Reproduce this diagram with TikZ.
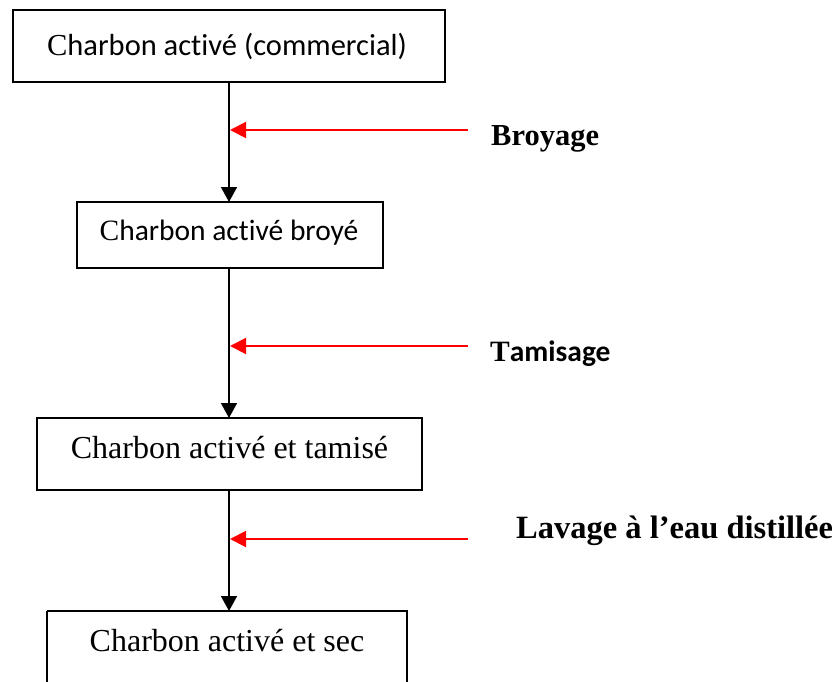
\documentclass[tikz,border=0pt]{standalone}
\usepackage{fontspec}
\setmainfont{Liberation Serif}
\newfontfamily\calib[Ligatures=NoCommon]{Carlito}
\usetikzlibrary{arrows.meta}
\begin{document}
\begin{tikzpicture}[x=1pt,y=-1pt,
  boxst/.style={draw=black,line width=1.6pt},
  txt/.style={inner sep=0pt,anchor=center},
  flow/.style={draw=black,line width=1.6pt,-{Triangle[length=15pt,width=16pt]}},
  feed/.style={draw=red,line width=2pt,-{Triangle[length=16pt,width=16pt]}},
  lbl/.style={inner sep=0pt,anchor=west,font=\bfseries}]
\useasboundingbox (0,0) rectangle (832,682);
% boxes
\draw[boxst] (13,10) rectangle (445,82);
\draw[boxst] (77,202) rectangle (383,268);
\draw[boxst] (37,418) rectangle (422,490);
\draw[boxst] (47,611) -- (47,690) (47,611) -- (407,611) -- (407,690);
% box texts
\node[txt,font=\fontsize{30.5}{32}\selectfont] (t1) at (227,46) {C{\calib harbon activé (commercial)}};
\node[txt,font=\fontsize{29.5}{32}\selectfont] (t2) at (229,233) {C{\calib harbon activé broyé}};
\node[txt,font=\fontsize{32}{34}\selectfont] (t3) at (229.5,448) {Charbon activé et tamisé};
\node[txt,font=\fontsize{32}{34}\selectfont] (t4) at (227,641) {Charbon activé et sec};
% anchor coordinates
\coordinate (b1) at (229,82);
\coordinate (b2t) at (229,202);
\coordinate (b2b) at (229,268);
\coordinate (b3t) at (229,418);
\coordinate (b3b) at (229,490);
\coordinate (b4t) at (229,611);
\draw[flow] (b1) -- (b2t);
\draw[flow] (b2b) -- (b3t);
\draw[flow] (b3b) -- (b4t);
% red side inputs
\coordinate (r1s) at (468,130); \coordinate (r1e) at (230,130);
\coordinate (r2s) at (468,346); \coordinate (r2e) at (230,346);
\coordinate (r3s) at (468,539); \coordinate (r3e) at (230,539);
\draw[feed] (r1s) -- (r1e);
\draw[feed] (r2s) -- (r2e);
\draw[feed] (r3s) -- (r3e);
% labels
\node[lbl,font=\bfseries\fontsize{30.5}{32}\selectfont] (l1) at (491,139) {Broyage};
\node[lbl,font=\bfseries\fontsize{29.5}{32}\selectfont] (l2) at (490,354) {T{\calib\bfseries amisage}};
\node[lbl,font=\bfseries\fontsize{32.5}{34}\selectfont] (l3) at (516,531) {Lavage à l’eau distillée};
\end{tikzpicture}
\end{document}
